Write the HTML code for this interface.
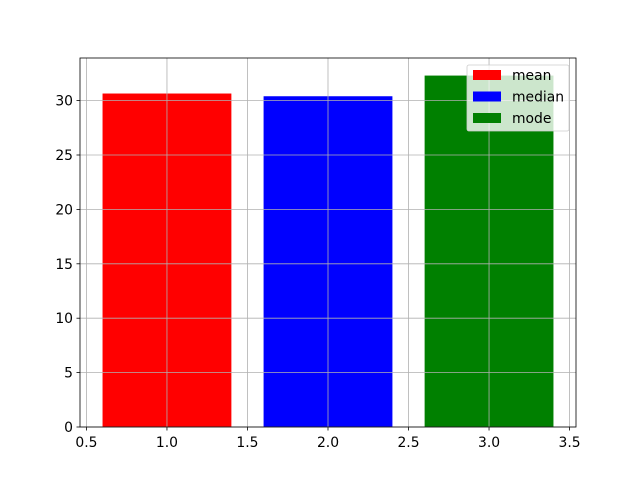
<!DOCTYPE html>
<html><head><meta charset="utf-8"><style>
body{margin:0;background:#fff;}
svg{display:block;font-family:"DejaVu Sans","Liberation Sans",sans-serif;}
</style></head><body>
<svg id="chart" width="640" height="480"></svg>
<script>
const categories=[1,2,3];
const labels=["mean","median","mode"];
const values=[30.65,30.4,32.3];
const colors=["#ff0000","#0000ff","#008000"];
const xTicks=[0.5,1.0,1.5,2.0,2.5,3.0,3.5];
const yTicks=[0,5,10,15,20,25,30];
const NS="http://www.w3.org/2000/svg";
const svg=document.getElementById('chart');
const L=80,R=576,T=58,B=427;
const barW=0.8;
const xmin=categories[0]-barW/2, xmax=categories[categories.length-1]+barW/2;
const xpad=(xmax-xmin)*0.05;
const x0=xmin-xpad,x1=xmax+xpad;
const ymax=Math.max(...values)*1.05;
const xs=v=>L+(v-x0)/(x1-x0)*(R-L);
const ys=v=>B-v/ymax*(B-T);
function mk(tag,attrs,parent){const e=document.createElementNS(NS,tag);for(const k in attrs)e.setAttribute(k,attrs[k]);(parent||svg).appendChild(e);return e;}
categories.forEach((c,i)=>{
  const r=mk('rect',{x:xs(c-barW/2),y:ys(values[i]),width:xs(c+barW/2)-xs(c-barW/2),height:B-ys(values[i]),fill:colors[i]});
  
  
});
xTicks.forEach(t=>{
  const x=xs(t);
  const g=mk('line',{x1:x,x2:x,y1:T,y2:B,stroke:'#b0b0b0','stroke-width':0.8});
  
  
  mk('line',{x1:x,x2:x,y1:B,y2:B+3.5,stroke:'#000','stroke-width':0.8});
  const tx=mk('text',{x:x,y:B+20,'font-size':13.9,'text-anchor':'middle',fill:'#000'});
  tx.textContent=t.toFixed(1);
  
  
});
yTicks.forEach(t=>{
  const y=ys(t);
  const g=mk('line',{x1:L,x2:R,y1:y,y2:y,stroke:'#b0b0b0','stroke-width':0.8});
  
  
  mk('line',{x1:L-3.5,x2:L,y1:y,y2:y,stroke:'#000','stroke-width':0.8});
  const tx=mk('text',{x:L-7,y:y+5,'font-size':13.9,'text-anchor':'end',fill:'#000'});
  tx.textContent=t;
  
  
});
const frame=mk('rect',{x:L,y:T,width:R-L,height:B-T,fill:'none',stroke:'#000','stroke-width':0.8});


const lg=mk('g',{});


mk('rect',{x:467,y:65,width:102,height:66,rx:2,fill:'#fff','fill-opacity':0.8,stroke:'#cccccc','stroke-width':0.8},lg);
labels.forEach((l,i)=>{
  const y=70+i*21.5;
  mk('rect',{x:473,y:y,width:28,height:10,fill:colors[i]},lg);
  const tx=mk('text',{x:512,y:y+10,'font-size':13.9,fill:'#000'},lg);
  tx.textContent=l;
  
  
});
</script>
</body></html>
